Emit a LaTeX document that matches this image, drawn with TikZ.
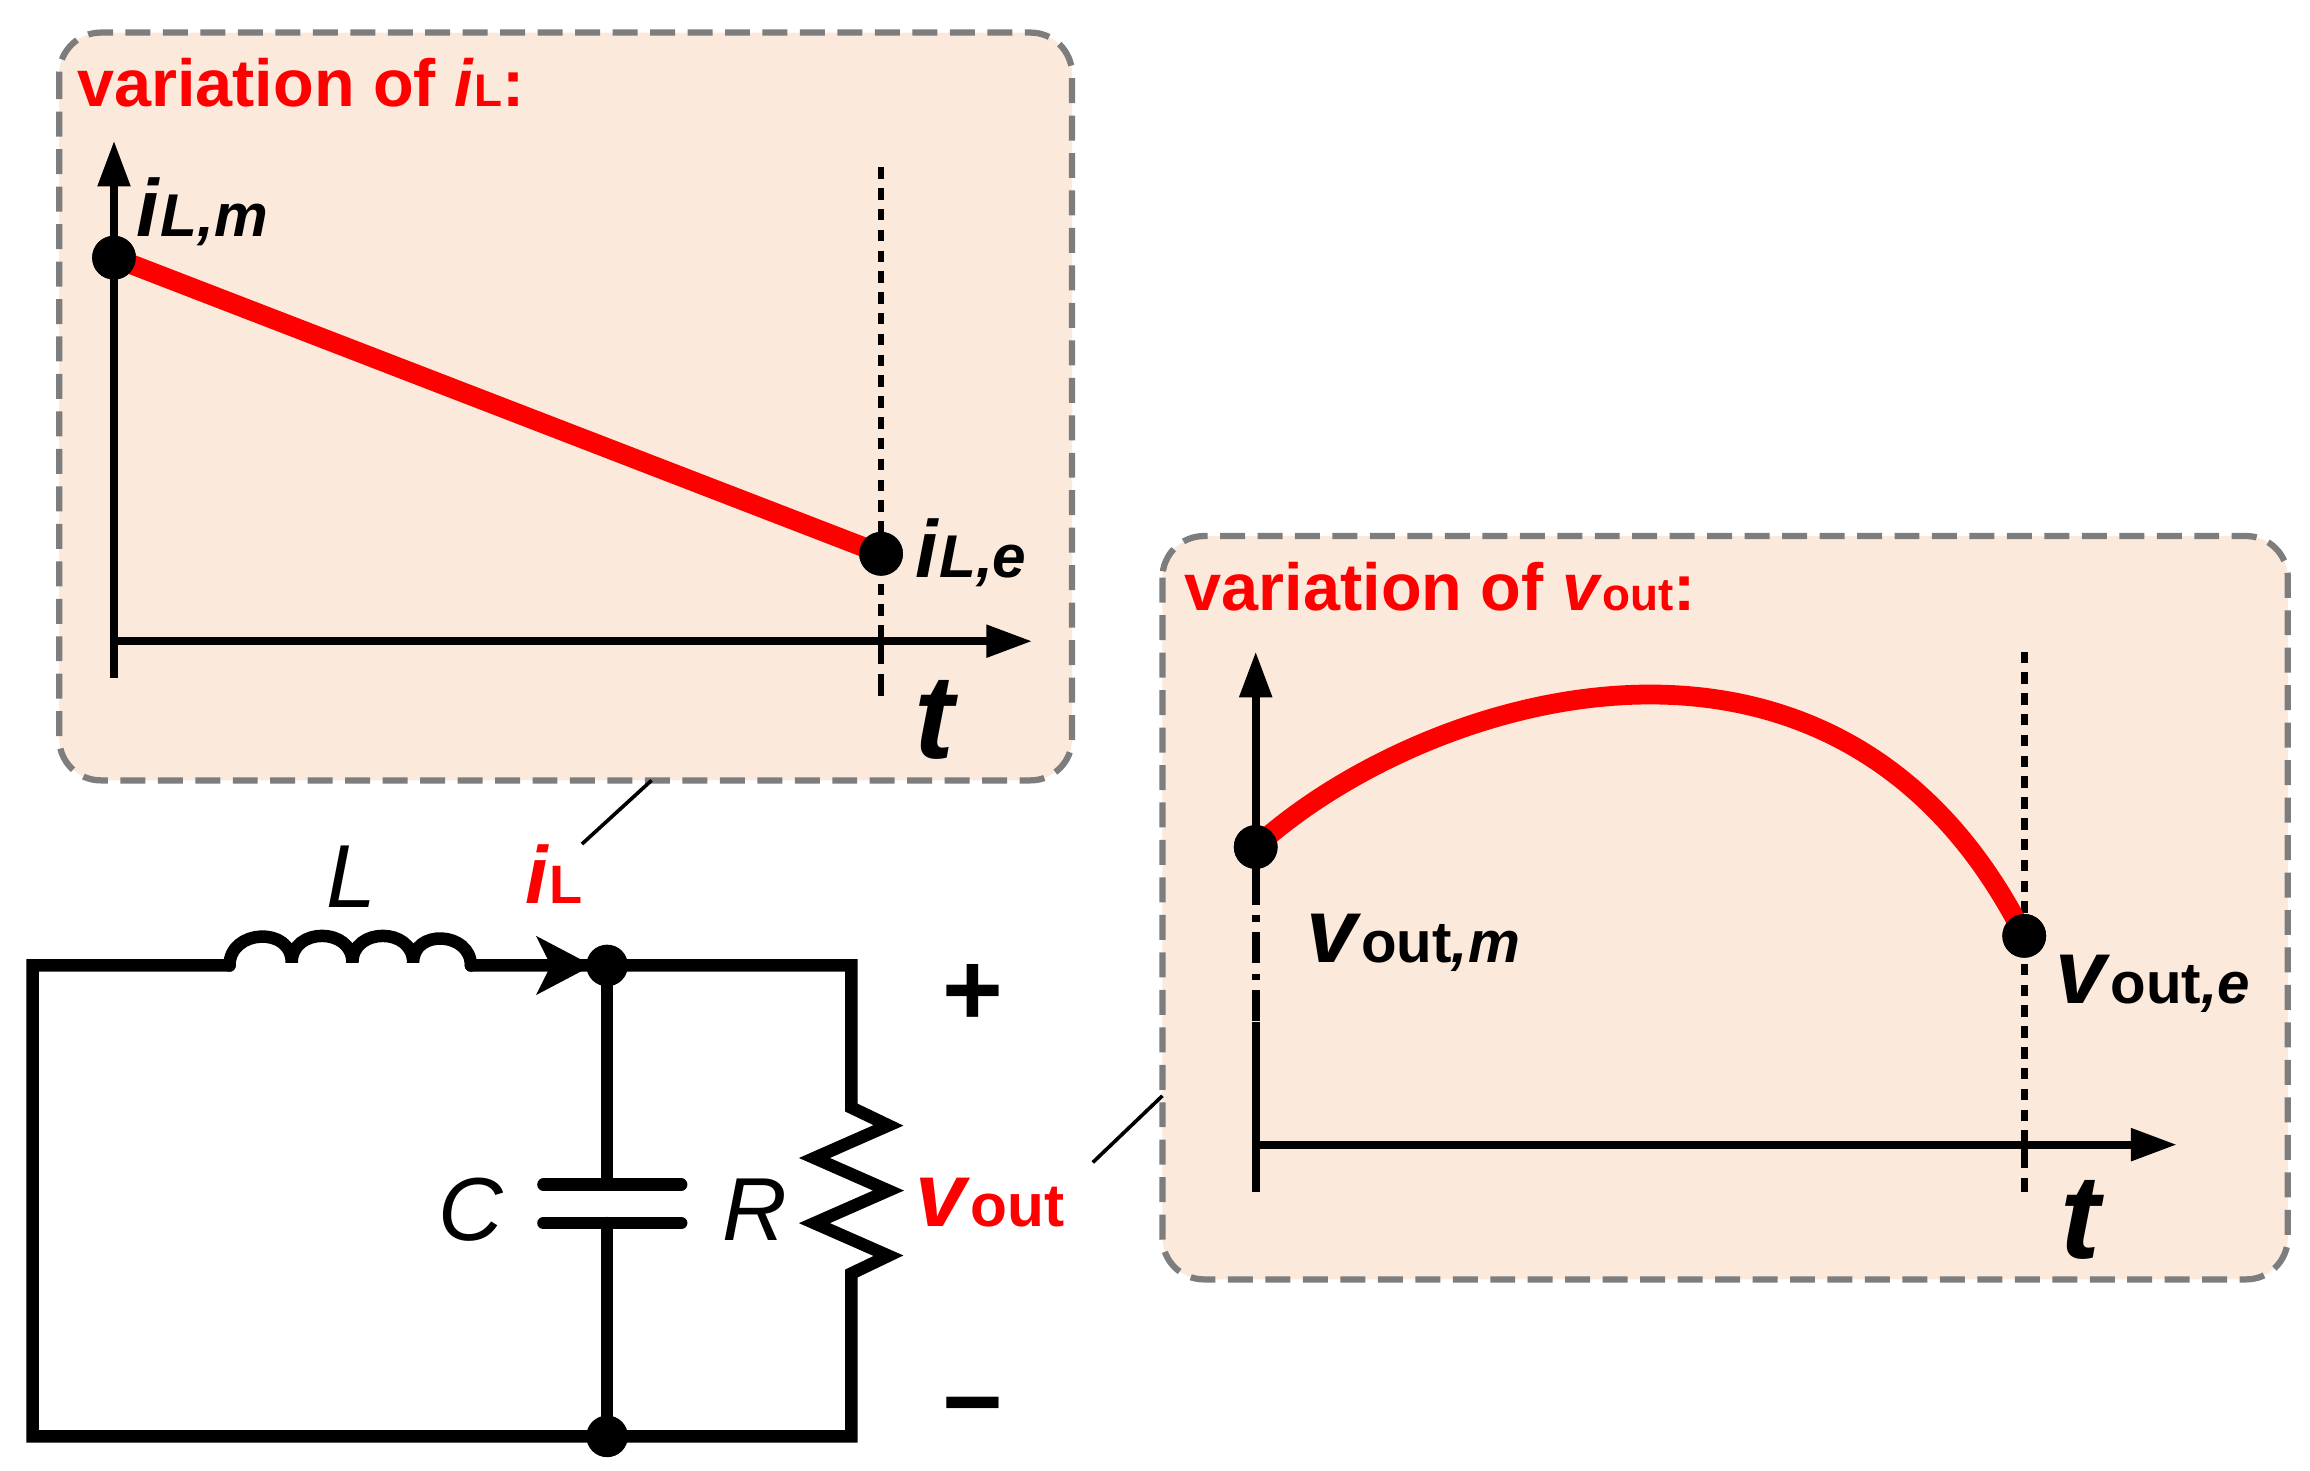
\documentclass[tikz,border=0pt]{standalone}
\usepackage{fontspec}
\setmainfont{Liberation Sans}
\usetikzlibrary{arrows.meta}
\definecolor{peach}{RGB}{251,233,220}
\definecolor{bgray}{RGB}{125,125,125}
\definecolor{myred}{RGB}{255,0,0}
\begin{document}
\begin{tikzpicture}[x=0.05cm,y=-0.05cm,
  box/.style={draw=bgray,line width=6pt,dash pattern=on 24pt off 12pt,fill=peach,rounded corners=40pt},
  ax/.style={line width=7.5pt,-{Triangle[length=44pt,width=30pt]}},
  wire/.style={line width=12pt,line join=miter,line cap=round},
  dot/.style={circle,fill=black,inner sep=0pt,minimum size=42pt},
  sdot/.style={circle,fill=black,inner sep=0pt,minimum size=42pt},
  title/.style={text=myred,font=\bfseries\fontsize{64}{70}\selectfont,anchor=base west,inner sep=0pt},
  lab/.style={font=\bfseries\fontsize{78}{84}\selectfont,inner sep=0pt},
  big/.style={font=\bfseries\itshape\fontsize{115}{120}\selectfont,inner sep=0pt},
  cl/.style={font=\itshape\fontsize{86}{90}\selectfont,inner sep=0pt}]
\useasboundingbox (0,0) rectangle (1560,993);
% box 1
\draw[box] (40,22) rectangle (724,527);
\node[title] (t1) at (52,72) {variation of \textit{i}{\fontsize{44}{50}\selectfont L}:};
\draw[ax] (77,458) -- (77,95);
\draw[ax] (77,433) -- (697,433);
\draw[line width=6.5pt,dash pattern=on 11pt off 9pt] (595,113) -- (595,433);
\draw[line width=6.5pt,dash pattern=on 22pt off 10pt] (595,433) -- (595,470);
\node[sdot] (a) at (77,174) {};
\node[sdot] (b) at (595,374) {};
\draw[myred,line width=19pt] (a.center) -- (b.center);
\node[sdot] at (77,174) {};
\node[sdot] at (595,374) {};
\node[lab,anchor=base west] (l1) at (92,160) {\textit{i}{\fontsize{58}{60}\selectfont\textit{L,m}}};
\node[lab,anchor=base west] (l2) at (618,390) {\textit{i}{\fontsize{58}{60}\selectfont\textit{L,e}}};
\node[big,anchor=base] (t1x) at (631,512) {t};
% box 2
\draw[box] (785,362) rectangle (1545,864);
\node[title] (t2) at (800,412) {variation of \textit{v}{\fontsize{44}{50}\selectfont out}:};
\draw[ax] (848,590) -- (848,440);
\draw[line width=7.5pt] (848,690) -- (848,805);
\draw[line width=7.5pt,dash pattern=on 30pt off 10pt on 6pt off 10pt] (848,590) -- (848,690);
\draw[ax] (848,773) -- (1470,773);
\draw[line width=6.5pt,dash pattern=on 11pt off 9pt] (1367,440) -- (1367,773);
\draw[line width=6.5pt,dash pattern=on 22pt off 10pt] (1367,773) -- (1367,805);
\node[sdot] (c) at (848,572) {};
\node[sdot] (d) at (1367,632) {};
\draw[myred,line width=19pt] (c.center) .. controls (960,470) and (1240,380) .. (d.center);
\node[sdot] at (848,572) {};
\node[sdot] at (1367,632) {};
\node[lab,anchor=base west] (l3) at (882,650) {\fontsize{88}{90}\selectfont\textit{v}{\fontsize{56}{60}\selectfont out\textit{,m}}};
\node[lab,anchor=base west] (l4) at (1388,678) {\fontsize{88}{90}\selectfont\textit{v}{\fontsize{56}{60}\selectfont out\textit{,e}}};
\node[big,anchor=base] (t2x) at (1405,850) {t};
% leaders
\coordinate (p1) at (440,527); \coordinate (p2) at (393,570);
\coordinate (p3) at (785,740); \coordinate (p4) at (738,785);
\draw[line width=3.5pt] (p1) -- (p2);
\draw[line width=3.5pt] (p3) -- (p4);
% circuit
\coordinate (n1) at (410,652);
\coordinate (n2) at (410,970);
\draw[wire] (155,652) -- (22,652) -- (22,970) -- (575,970) -- (575,860)
  -- (600,848) -- (550,826) -- (600,804) -- (550,782) -- (600,760) -- (575,748) -- (575,652) -- (318,652);
\draw[wire] (155,652) to[out=90,in=90,looseness=1.5] (197,650) to[out=90,in=90,looseness=1.5] (238,650) to[out=90,in=90,looseness=1.5] (279,650) to[out=90,in=90,looseness=1.5] (318,652);
\draw[wire] (n1) -- (410,800);
\draw[wire] (410,826) -- (n2);
\draw[wire,line cap=round] (367,800) -- (460,800);
\draw[wire,line cap=round] (367,826) -- (460,826);
\fill (362,632) -- (400,652) -- (362,672) -- (372,652) -- cycle;
\node[dot,minimum size=40pt] at (n1) {};
\node[dot,minimum size=40pt] at (n2) {};
\node[cl,anchor=base] (L) at (237,613) {L};
\node[lab,text=myred,anchor=base west] (iL) at (355,610) {\textit{i}{\fontsize{52}{56}\selectfont L}};
\node[cl,anchor=base] (C) at (318,838) {C};
\node[cl,anchor=base] (R) at (510,838) {R};
\node[lab,text=myred,anchor=base west] (vo) at (618,828) {\fontsize{88}{90}\selectfont\textit{v}{\fontsize{58}{60}\selectfont out}};
\node[font=\bfseries\fontsize{100}{100}\selectfont,inner sep=0pt] (plus) at (657,672) {+};
\node[font=\bfseries\fontsize{100}{100}\selectfont,inner sep=0pt] (minus) at (657,957) {\textminus};
\end{tikzpicture}
\end{document}
